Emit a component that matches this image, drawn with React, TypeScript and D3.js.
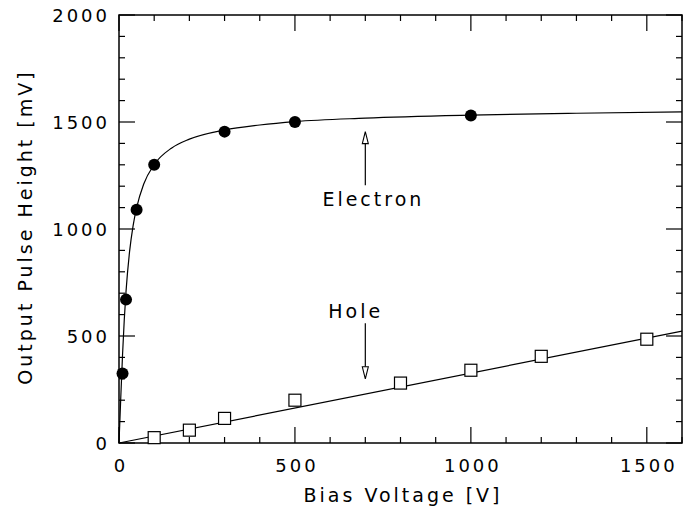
import React, { useEffect, useRef } from "react";
import * as d3 from "d3";

// measured points
const electronV = [10, 20, 50, 100, 300, 500, 1000];
const electronH = [325, 670, 1090, 1300, 1455, 1500, 1530];
const holeV = [100, 200, 300, 500, 800, 1000, 1200, 1500];
const holeH = [25, 60, 115, 200, 280, 340, 405, 485];

// fitted curves
const electronFitV = [0, 2, 5, 10, 15, 20, 30, 40, 50, 70, 100, 150, 200, 300, 400, 500, 700, 1000, 1300, 1600];
const electronFitH = [0, 84, 210, 410, 577, 709, 894, 1015, 1099, 1209, 1301, 1379, 1420, 1463, 1486, 1502, 1518, 1532, 1541, 1547];
const holeFitV = [0, 1600];
const holeFitH = [0, 523];

const xTicks = [0, 500, 1000, 1500];
const yTicks = [0, 500, 1000, 1500, 2000];

const FONT = "'DejaVu Sans', sans-serif";

const App = () => {
  const svgRef = useRef<SVGSVGElement>(null);

  useEffect(() => {
    const svg = d3.select(svgRef.current);
    svg.selectAll("*").remove();

    const left = 119, right = 682, top = 15, bottom = 443;
    const x = d3.scaleLinear().domain([0, 1600]).range([left, right]);
    const y = d3.scaleLinear().domain([0, 2000]).range([bottom, top]);

    const g = svg.append("g");

    // frame
    g.append("rect")
      .attr("x", left).attr("y", top)
      .attr("width", right - left).attr("height", bottom - top)
      .attr("fill", "none").attr("stroke", "black").attr("stroke-width", 1.5);

    // ticks, pointing inward on all four sides
    const xMinor = d3.range(0, 1601, 100);
    xMinor.forEach(v => {
      const len = v % 500 === 0 ? 16 : 6;
      g.append("line").attr("x1", x(v)).attr("x2", x(v)).attr("y1", bottom).attr("y2", bottom - len)
        .attr("stroke", "black").attr("stroke-width", 1.2);
      g.append("line").attr("x1", x(v)).attr("x2", x(v)).attr("y1", top).attr("y2", top + len)
        .attr("stroke", "black").attr("stroke-width", 1.2);
    });
    const yMinor = d3.range(0, 2001, 100);
    yMinor.forEach(v => {
      const len = v % 500 === 0 ? 16 : 6;
      g.append("line").attr("x1", left).attr("x2", left + len).attr("y1", y(v)).attr("y2", y(v))
        .attr("stroke", "black").attr("stroke-width", 1.2);
      g.append("line").attr("x1", right).attr("x2", right - len).attr("y1", y(v)).attr("y2", y(v))
        .attr("stroke", "black").attr("stroke-width", 1.2);
    });

    // tick labels
    g.selectAll(".xl").data(xTicks).enter().append("text")
      .attr("x", d => x(d) + 2).attr("y", 472)
      .attr("text-anchor", "middle")
      .style("font-family", FONT).style("font-size", "18px").style("letter-spacing", "3px")
      .text(d => d);
    g.selectAll(".yl").data(yTicks).enter().append("text")
      .attr("x", 110).attr("y", d => y(d) + 7)
      .attr("text-anchor", "end")
      .style("font-family", FONT).style("font-size", "18px").style("letter-spacing", "3px")
      .text(d => d);

    // axis titles
    g.append("text")
      .attr("x", 403).attr("y", 502)
      .attr("text-anchor", "middle")
      .style("font-family", FONT).style("font-size", "19px").style("letter-spacing", "3px")
      .text("Bias Voltage [V]");
    g.append("text")
      .attr("transform", `translate(32,${(top + bottom) / 2 - 2}) rotate(-90)`)
      .attr("text-anchor", "middle")
      .style("font-family", FONT).style("font-size", "19px").style("letter-spacing", "3px")
      .text("Output Pulse Height [mV]");

    const line = d3.line<[number, number]>()
      .x(d => x(d[0]))
      .y(d => y(d[1]))
      .curve(d3.curveMonotoneX);

    g.append("path")
      .datum(electronFitV.map((v, i) => [v, electronFitH[i]] as [number, number]))
      .attr("d", line).attr("fill", "none").attr("stroke", "black").attr("stroke-width", 1.2);
    g.append("path")
      .datum(holeFitV.map((v, i) => [v, holeFitH[i]] as [number, number]))
      .attr("d", line).attr("fill", "none").attr("stroke", "black").attr("stroke-width", 1.2);

    // electron markers
    g.selectAll(".el").data(electronV).enter().append("circle")
      .attr("cx", d => x(d)).attr("cy", (d, i) => y(electronH[i]))
      .attr("r", 6).attr("fill", "black");

    // hole markers
    g.selectAll(".ho").data(holeV).enter().append("rect")
      .attr("x", d => x(d) - 6).attr("y", (d, i) => y(holeH[i]) - 6)
      .attr("width", 12).attr("height", 12)
      .attr("fill", "white").attr("stroke", "black").attr("stroke-width", 1.2);

    // annotations with hollow arrowheads
    const arrow = (xv: number, from: number, to: number) => {
      const dir = to > from ? 1 : -1;
      const px = x(xv);
      const y0 = y(from), y1 = y(to);
      const head = 12;
      g.append("line").attr("x1", px).attr("x2", px).attr("y1", y0).attr("y2", y1 + dir * head)
        .attr("stroke", "black").attr("stroke-width", 1.2);
      g.append("path")
        .attr("d", `M${px},${y1} L${px - 3},${y1 + dir * head} L${px + 3},${y1 + dir * head} Z`)
        .attr("fill", "white").attr("stroke", "black").attr("stroke-width", 1.1);
    };
    arrow(700, 1205, 1455);
    arrow(700, 560, 300);

    g.append("text")
      .attr("x", x(720) + 1).attr("y", 206)
      .attr("text-anchor", "middle")
      .style("font-family", FONT).style("font-size", "19px").style("letter-spacing", "3px")
      .text("Electron");
    g.append("text")
      .attr("x", x(670) + 1).attr("y", 318)
      .attr("text-anchor", "middle")
      .style("font-family", FONT).style("font-size", "19px").style("letter-spacing", "3px")
      .text("Hole");
  }, []);

  return (
    <div style={{ position: "absolute", left: 0, top: 0 }}>
      <svg ref={svgRef} width={695} height={513} style={{ display: "block", background: "white" }}></svg>
    </div>
  );
};

export default App;
